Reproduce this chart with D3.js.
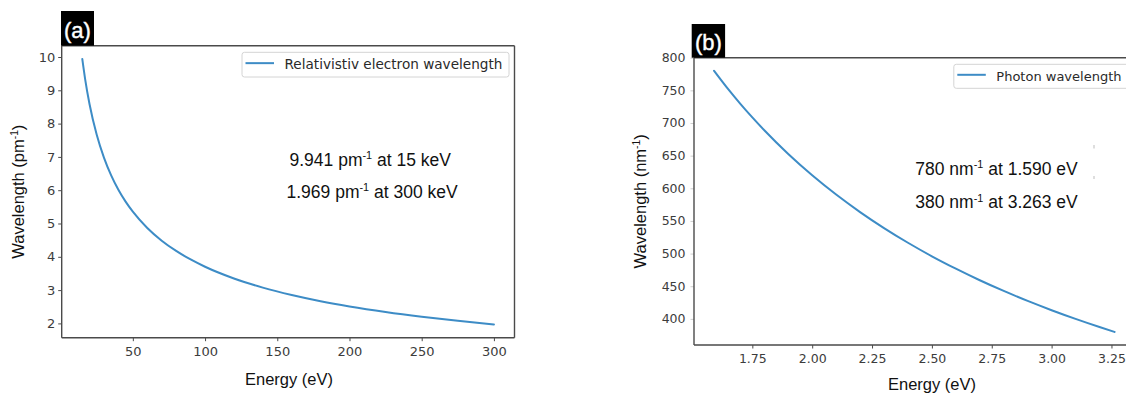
<!DOCTYPE html>
<html>
<head>
<meta charset="utf-8">
<script src="https://cdn.jsdelivr.net/npm/d3@7"></script>
<style>
  html, body { margin: 0; padding: 0; background: #fff; }
  svg { display: block; }
</style>
</head>
<body>
<svg id="fig" width="1126" height="394"></svg>
<script>
// Panel (a): relativistic electron wavelength against accelerating energy
const electronEnergy = [15, 17, 20, 25, 30, 35, 40, 45, 50, 60, 70, 80, 90, 100, 120, 140, 160, 180, 200, 225, 250, 275, 300];
const electronWavelength = [9.941, 9.329, 8.588, 7.663, 6.979, 6.446, 6.015, 5.658, 5.355, 4.866, 4.484, 4.176, 3.919, 3.701, 3.349, 3.074, 2.851, 2.665, 2.508, 2.341, 2.199, 2.076, 1.969];
const electronTicksX = [50, 100, 150, 200, 250, 300];
const electronTicksY = [2, 3, 4, 5, 6, 7, 8, 9, 10];

// Panel (b): photon wavelength across the visible band
const photonEnergy = [1.590, 1.65, 1.70, 1.75, 1.80, 1.90, 2.00, 2.10, 2.20, 2.30, 2.40, 2.50, 2.60, 2.70, 2.80, 2.90, 3.00, 3.10, 3.20, 3.263];
const photonWavelength = [780, 751.4, 729.3, 708.5, 688.8, 652.5, 619.9, 590.4, 563.6, 539.1, 516.6, 495.9, 476.9, 459.2, 442.8, 427.5, 413.3, 400.0, 387.5, 380];
const photonTicksX = [1.75, 2.00, 2.25, 2.50, 2.75, 3.00, 3.25];
const photonTicksY = [400, 450, 500, 550, 600, 650, 700, 750, 800];

const LINE_COLOR = "#3d8cc6";
const SPINE_COLOR = "#4a4a4a";
const TICK_FONT = "'DejaVu Sans', sans-serif";
const TEXT_FONT = "'Liberation Sans', Arial, Helvetica, sans-serif";

const svg = d3.select("#fig");

// autoscale with a 5% margin on each side of the data extent
function padded(values) {
  const [lo, hi] = d3.extent(values);
  const m = (hi - lo) * 0.05;
  return [lo - m, hi + m];
}

// text with a small raised "-1" after the first part
function supText(g, x, y, before, sup, after, size, anchor) {
  const t = g.append("text")
    .attr("x", x).attr("y", y)
    .attr("font-family", TEXT_FONT)
    .attr("font-size", size)
    .attr("fill", "#111")
    .attr("text-anchor", anchor || "start");
  t.append("tspan").text(before);
  t.append("tspan").attr("font-size", size * 0.62).attr("dy", -size * 0.38).text(sup);
  t.append("tspan").attr("dy", size * 0.38).text(after);
  return t;
}

function panel(cfg) {
  const g = svg.append("g");
  const x = d3.scaleLinear().domain(padded(cfg.xs)).range([cfg.left, cfg.right]);
  const y = d3.scaleLinear().domain(padded(cfg.ys)).range([cfg.bottom, cfg.top]);

  // y axis ticks
  const ya = g.append("g")
    .attr("transform", `translate(${cfg.left},0)`)
    .call(d3.axisLeft(y).tickValues(cfg.yTicks).tickSize(3.5).tickPadding(cfg.yPad).tickFormat(cfg.yFmt));
  ya.select(".domain").remove();
  ya.selectAll(".tick line").attr("stroke", cfg.yTickColor).attr("stroke-width", 1);
  ya.selectAll(".tick text")
    .attr("font-family", TICK_FONT).attr("font-size", cfg.tickSize).attr("fill", "#3c3c3c");

  // x axis ticks
  const xa = g.append("g")
    .attr("transform", `translate(0,${cfg.bottom})`)
    .call(d3.axisBottom(x).tickValues(cfg.xTicks).tickSize(3.5).tickPadding(cfg.xPad).tickFormat(cfg.xFmt));
  xa.select(".domain").remove();
  xa.selectAll(".tick line").attr("stroke", SPINE_COLOR).attr("stroke-width", 1);
  xa.selectAll(".tick text")
    .attr("font-family", TICK_FONT).attr("font-size", cfg.tickSize).attr("fill", "#3c3c3c");

  // frame
  const spine = (x1, y1, x2, y2) => g.append("line")
    .attr("x1", x1).attr("y1", y1).attr("x2", x2).attr("y2", y2)
    .attr("stroke", SPINE_COLOR).attr("stroke-width", 1.4);
  spine(cfg.left, cfg.top, cfg.left, cfg.bottom);
  spine(cfg.left, cfg.bottom, cfg.frameRight, cfg.bottom);
  spine(cfg.left, cfg.top, cfg.frameRight, cfg.top);
  if (cfg.drawRight) spine(cfg.right, cfg.top, cfg.right, cfg.bottom);

  // curve
  const line = d3.line()
    .x((d, i) => x(cfg.xs[i]))
    .y((d, i) => y(cfg.ys[i]))
    .curve(d3.curveMonotoneX);
  g.append("path")
    .datum(cfg.xs)
    .attr("d", line)
    .attr("fill", "none")
    .attr("stroke", LINE_COLOR)
    .attr("stroke-width", 2)
    .attr("stroke-linecap", "round");

  // legend
  const lg = g.append("g");
  lg.append("rect")
    .attr("x", cfg.legend.x).attr("y", cfg.legend.y)
    .attr("width", cfg.legend.w).attr("height", cfg.legend.h)
    .attr("rx", 2.5)
    .attr("fill", "#fff").attr("stroke", "#d4d4d4").attr("stroke-width", 1);
  lg.append("line")
    .attr("x1", cfg.legend.x + 3.5).attr("x2", cfg.legend.x + 32)
    .attr("y1", cfg.legend.y + cfg.legend.h / 2 - 1.5).attr("y2", cfg.legend.y + cfg.legend.h / 2 - 1.5)
    .attr("stroke", LINE_COLOR).attr("stroke-width", 2);
  lg.append("text")
    .attr("x", cfg.legend.x + 42.5)
    .attr("y", cfg.legend.y + cfg.legend.h / 2 + 4.5)
    .attr("font-family", TICK_FONT).attr("font-size", cfg.legend.size).attr("fill", "#2a2a2a")
    .text(cfg.legend.label);

  // panel tag
  g.append("rect")
    .attr("x", cfg.tag.x).attr("y", cfg.tag.y)
    .attr("width", cfg.tag.w).attr("height", cfg.tag.h)
    .attr("fill", "#000");
  g.append("text")
    .attr("x", cfg.tag.x + cfg.tag.w / 2).attr("y", cfg.tag.y + cfg.tag.h - 8)
    .attr("text-anchor", "middle")
    .attr("font-family", TEXT_FONT).attr("font-size", 22).attr("fill", "#fff")
    .attr("stroke", "#fff").attr("stroke-width", 0.4)
    .text(cfg.tag.label);

  // axis titles
  g.append("text")
    .attr("x", cfg.xLabelX).attr("y", cfg.xLabelY)
    .attr("text-anchor", "middle")
    .attr("font-family", TEXT_FONT).attr("font-size", 16.5).attr("fill", "#111")
    .text("Energy (eV)");
  const yl = g.append("g")
    .attr("transform", `translate(${cfg.yLabelX},${(cfg.top + cfg.bottom) / 2}) rotate(-90)`);
  supText(yl, 0, 0, cfg.yLabel, "-1", ")", 16.5, "middle");

  // annotations
  cfg.notes.forEach(n => supText(g, n.x, n.y, n.a, "-1", n.b, 17.5, "start"));

  return g;
}

panel({
  xs: electronEnergy, ys: electronWavelength,
  left: 61.7, right: 514.5, frameRight: 514.5, top: 45.7, bottom: 337.7, drawRight: true,
  xTicks: electronTicksX, yTicks: electronTicksY,
  xFmt: d3.format("d"), yFmt: d3.format("d"),
  yTickColor: SPINE_COLOR, tickSize: 13, xPad: 6, yPad: 3,
  legend: { x: 242, y: 52.3, w: 267, h: 24.7, size: 13.6, label: "Relativistiv electron wavelength" },
  tag: { x: 61, y: 11, w: 33, h: 34.7, label: "(a)" },
  xLabelX: 289, xLabelY: 385,
  yLabelX: 24, yLabel: "Wavelength (pm",
  notes: [
    { x: 289.5, y: 165.7, a: "9.941 pm", b: " at 15 keV" },
    { x: 286.5, y: 197.7, a: "1.969 pm", b: " at 300 keV" }
  ]
});

const pb = panel({
  xs: photonEnergy, ys: photonWavelength,
  left: 694, right: 1134.6, frameRight: 1126, top: 57.7, bottom: 345, drawRight: false,
  xTicks: photonTicksX, yTicks: photonTicksY,
  xFmt: d3.format(".2f"), yFmt: d3.format("d"),
  yTickColor: "#cfcfcf", tickSize: 12.5, xPad: 6, yPad: 5,
  legend: { x: 953.8, y: 64.3, w: 200, h: 24, size: 13, label: "Photon wavelength" },
  tag: { x: 691.7, y: 24, w: 33.4, h: 33.7, label: "(b)" },
  xLabelX: 932, xLabelY: 390,
  yLabelX: 646, yLabel: "Wavelength (nm",
  notes: [
    { x: 915.3, y: 175, a: "780 nm", b: " at 1.590 eV" },
    { x: 915.3, y: 208.3, a: "380 nm", b: " at 3.263 eV" }
  ]
});

// faint leftovers of the right-hand spine beside the notes
[[145, 148.5], [176, 179]].forEach(([a, b]) => pb.append("line")
  .attr("x1", 1094).attr("x2", 1094).attr("y1", a).attr("y2", b)
  .attr("stroke", "#bdbdbd").attr("stroke-width", 1));
</script>
</body>
</html>
